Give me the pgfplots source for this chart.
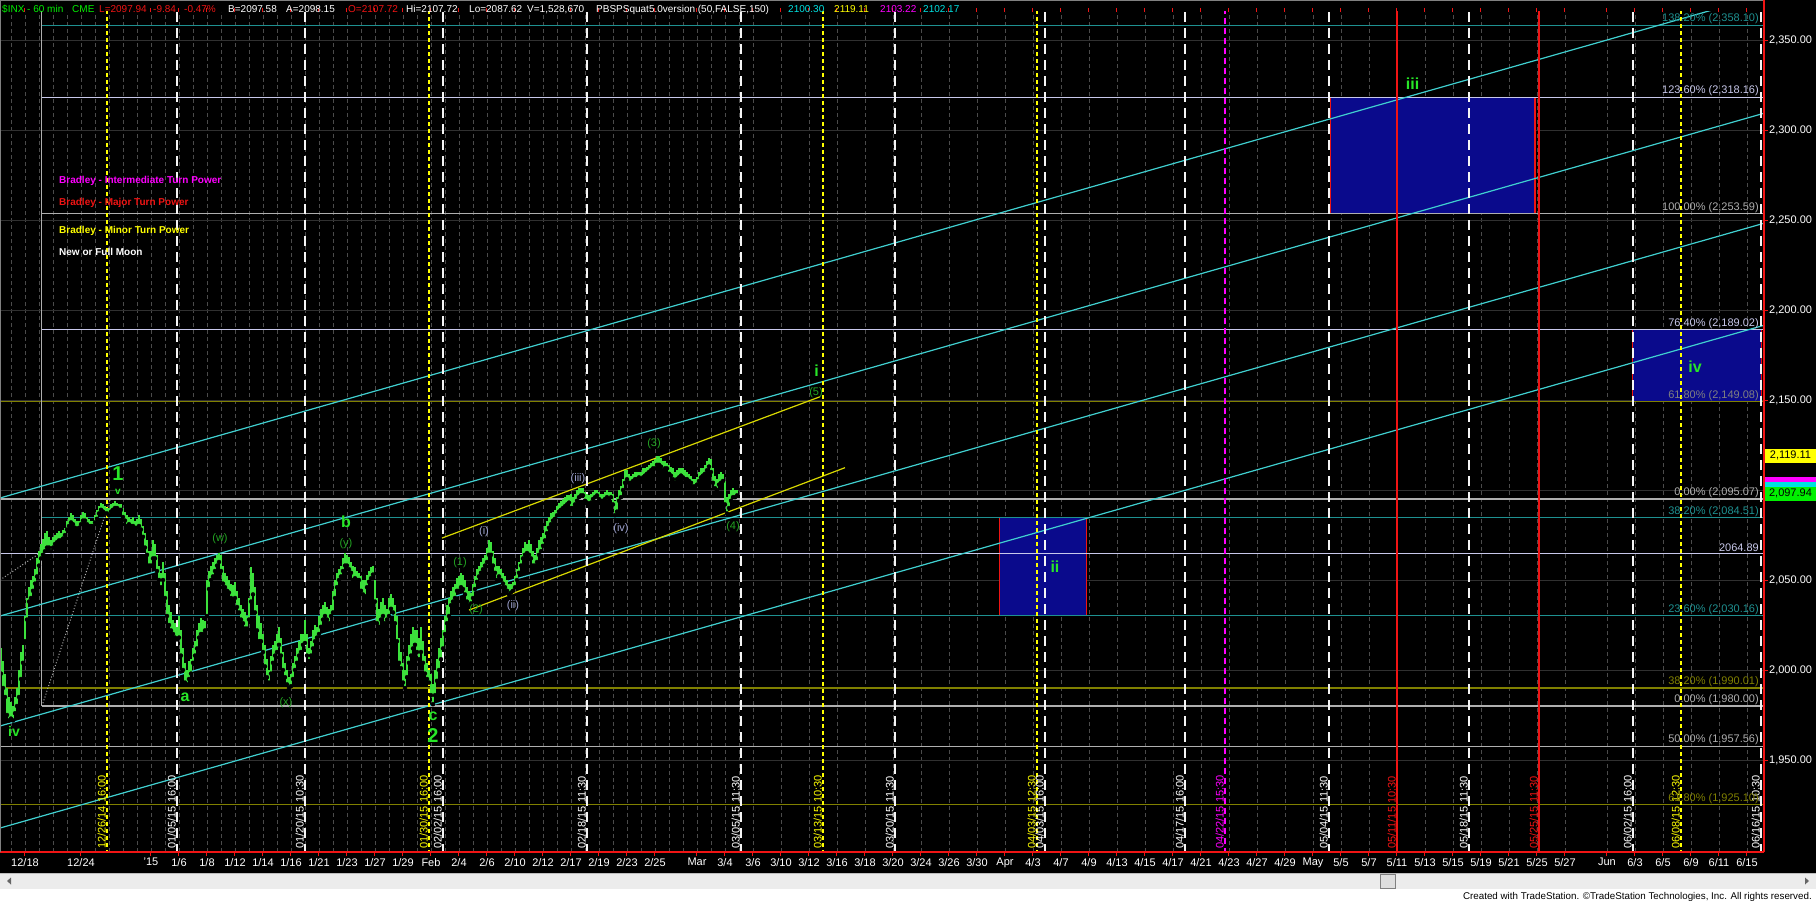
\documentclass[border=0pt]{standalone}
\usepackage{fontspec}
\setmainfont{Liberation Sans}
\usepackage{pgfplots}
\usepackage{pgfplotstable}
\pgfplotsset{compat=1.18}

\definecolor{bargreen}{RGB}{60,225,60}
\definecolor{cyanl}{RGB}{64,208,208}
\definecolor{tealf}{RGB}{30,145,145}
\definecolor{lav}{RGB}{200,200,235}
\definecolor{grayf}{RGB}{175,175,175}
\definecolor{olivef}{RGB}{128,128,0}
\definecolor{navybox}{RGB}{10,10,140}
\definecolor{redl}{RGB}{240,20,20}
\definecolor{yell}{RGB}{255,255,0}
\definecolor{mag}{RGB}{255,0,255}
\definecolor{wgreen}{RGB}{40,230,40}
\definecolor{dgreen}{RGB}{35,165,35}
\definecolor{wblue}{RGB}{160,165,210}
\definecolor{gridc}{RGB}{75,75,75}
\definecolor{gridy}{RGB}{48,48,48}
\definecolor{cyant}{RGB}{0,225,225}
\definecolor{greent}{RGB}{0,240,0}
\definecolor{sbar}{RGB}{236,236,236}
\definecolor{sbarl}{RGB}{190,190,190}
\definecolor{thumb}{RGB}{222,222,222}

\newcommand{\fA}{\fontsize{11}{13}\selectfont}
\newcommand{\fH}{\fontsize{10}{12}\selectfont}
\newcommand{\fB}{\fontsize{10}{12}\selectfont\bfseries}

% hourly bars: bar index, low, high
\pgfplotstableread{
i lo hi
-12 1998 2012
-11 1990 2005
-10 1985 1998
-9 1975 1990
-8 1972 1985
-7 1973 1982
-6 1972 1980
-5 1976 1985
-4 1980 1990
-3 1985 2000
-2 1995 2010
-1 2004 2014
0 2016 2030
1 2028 2040
2 2038 2046
3 2040 2050
4 2044 2052
5 2048 2056
6 2052 2062
7 2058 2066
8 2062 2070
9 2064 2073
10 2066 2076
11 2068 2077
12 2068 2074
13 2066 2072
14 2068 2074
15 2070 2075
16 2071 2076
17 2072 2077
18 2072 2076
19 2073 2078
20 2075 2079
21 2078 2083
22 2080 2085
23 2082 2087
24 2081 2086
25 2079 2084
26 2078 2083
27 2079 2083
28 2081 2086
29 2083 2088
30 2083 2087
31 2081 2085
32 2080 2084
33 2080 2083
34 2080 2083
35 2082 2086
36 2084 2089
37 2087 2091
38 2089 2093
39 2088 2092
40 2087 2091
41 2087 2090
42 2086 2090
43 2088 2092
44 2089 2093
45 2090 2094
46 2090 2093
47 2089 2092
48 2089 2092
49 2085 2090
50 2083 2088
51 2080 2086
52 2081 2085
53 2080 2084
54 2080 2085
55 2079 2083
56 2079 2084
57 2080 2086
58 2078 2084
59 2074 2080
60 2068 2076
61 2064 2072
62 2058 2066
63 2058 2066
64 2062 2072
65 2062 2070
66 2055 2064
67 2050 2058
68 2046 2054
69 2050 2060
70 2040 2054
71 2030 2044
72 2025 2036
73 2022 2032
74 2020 2028
75 2018 2026
76 2017 2024
77 2018 2030
78 2008 2022
79 2000 2012
80 1993 2004
81 1992 2000
82 1995 2005
83 1998 2006
84 2004 2012
85 2008 2016
86 2012 2022
87 2018 2026
88 2020 2029
89 2020 2028
90 2022 2027
91 2030 2050
92 2045 2055
93 2050 2058
94 2052 2060
95 2055 2062
96 2058 2064
97 2060 2065
98 2055 2064
99 2048 2058
100 2046 2054
101 2044 2052
102 2043 2050
103 2040 2048
104 2039 2047
105 2040 2049
106 2035 2044
107 2032 2040
108 2028 2036
109 2026 2034
110 2023 2032
111 2023 2030
112 2028 2040
113 2038 2057
114 2042 2054
115 2032 2046
116 2022 2036
117 2016 2030
118 2016 2026
119 2010 2020
120 2002 2014
121 1996 2006
122 1993 2000
123 1998 2008
124 2004 2014
125 2008 2016
126 2010 2020
127 2014 2024
128 2008 2018
129 2000 2010
130 1996 2004
131 1992 2000
132 1990 1996
133 1991 1998
134 1995 2004
135 2000 2008
136 2004 2012
137 2008 2016
138 2010 2020
139 2014 2020
140 2015 2028
141 2008 2020
142 2005 2012
143 2008 2016
144 2012 2022
145 2016 2025
146 2018 2024
147 2020 2030
148 2024 2034
149 2028 2036
150 2030 2038
151 2028 2035
152 2026 2034
153 2030 2036
154 2032 2044
155 2040 2050
156 2046 2054
157 2050 2056
158 2052 2058
159 2055 2062
160 2058 2065
161 2058 2064
162 2056 2063
163 2054 2060
164 2050 2058
165 2051 2057
166 2050 2055
167 2050 2054
168 2044 2052
169 2042 2050
170 2041 2050
171 2046 2053
172 2049 2055
173 2051 2057
174 2053 2058
175 2038 2050
176 2026 2040
177 2024 2034
178 2028 2038
179 2030 2040
180 2026 2036
181 2028 2034
182 2030 2040
183 2034 2042
184 2032 2040
185 2026 2036
186 2016 2030
187 2004 2018
188 2001 2010
189 1993 2004
190 1990 2000
191 1996 2008
192 2004 2014
193 2008 2020
194 2012 2024
195 2014 2022
196 2010 2022
197 2006 2018
198 2010 2024
199 2004 2016
200 1998 2008
201 1995 2004
202 1993 2000
203 1986 1998
204 1981 1992
205 1986 2000
206 1994 2006
207 2000 2012
208 2006 2018
209 2012 2022
210 2020 2030
211 2026 2036
212 2030 2040
213 2036 2044
214 2038 2046
215 2040 2048
216 2044 2051
217 2044 2052
218 2046 2054
219 2045 2053
220 2042 2050
221 2038 2046
222 2036 2044
223 2037 2043
224 2040 2048
225 2045 2052
226 2049 2056
227 2052 2058
228 2054 2060
229 2056 2062
230 2058 2064
231 2060 2068
232 2064 2072
233 2064 2071
234 2058 2066
235 2054 2062
236 2050 2058
237 2052 2058
238 2050 2056
239 2048 2054
240 2046 2052
241 2044 2050
242 2042 2048
243 2043 2048
244 2044 2049
245 2046 2052
246 2050 2056
247 2054 2060
248 2058 2064
249 2062 2068
250 2064 2071
251 2065 2070
252 2064 2072
253 2062 2070
254 2058 2066
255 2058 2064
256 2060 2068
257 2064 2072
258 2066 2074
259 2069 2076
260 2072 2080
261 2076 2083
262 2079 2085
263 2081 2087
264 2083 2088
265 2084 2089
266 2086 2091
267 2088 2093
268 2089 2094
269 2090 2095
270 2091 2096
271 2092 2097
272 2093 2097
273 2090 2098
274 2090 2096
275 2092 2098
276 2094 2100
277 2096 2101
278 2097 2101
279 2097 2101
280 2094 2099
281 2093 2098
282 2092 2097
283 2093 2098
284 2095 2099
285 2096 2100
286 2097 2100
287 2095 2099
288 2094 2098
289 2094 2098
290 2095 2099
291 2096 2100
292 2095 2099
293 2096 2099
294 2092 2098
295 2086 2094
296 2088 2096
297 2094 2100
298 2096 2102
299 2100 2106
300 2104 2111
301 2106 2111
302 2104 2109
303 2104 2108
304 2105 2109
305 2106 2110
306 2106 2110
307 2107 2110
308 2106 2110
309 2107 2112
310 2108 2112
311 2109 2113
312 2110 2114
313 2111 2115
314 2112 2116
315 2112 2117
316 2114 2119
317 2114 2119
318 2113 2118
319 2111 2116
320 2112 2116
321 2112 2115
322 2109 2114
323 2108 2113
324 2106 2112
325 2104 2110
326 2106 2111
327 2107 2112
328 2108 2112
329 2107 2112
330 2106 2111
331 2106 2110
332 2105 2109
333 2104 2108
334 2102 2106
335 2102 2106
336 2103 2107
337 2105 2110
338 2107 2112
339 2108 2112
340 2109 2114
341 2111 2116
342 2113 2118
343 2110 2117
344 2104 2112
345 2101 2108
346 2100 2106
347 2103 2109
348 2104 2110
349 2105 2109
350 2092 2105
351 2087 2096
352 2090 2098
353 2094 2100
354 2096 2101
355 2096 2100
356 2097 2100
}\bars

\begin{document}
\begin{tikzpicture}
\useasboundingbox (0,0) rectangle (1816pt,-904pt);
\fill[black] (0,0) rectangle (1816pt,-873pt);
\fill[white] (0,-873pt) rectangle (1816pt,-904pt);
\fill[sbar] (0,-873pt) rectangle (1816pt,-889pt);
\draw[sbarl] (0,-873.5pt) -- (1816pt,-873.5pt);
\filldraw[fill=thumb, draw=gray] (1380pt,-874.5pt) rectangle (1395pt,-888pt);
\fill[black!60] (7pt,-881pt) -- (11pt,-877.5pt) -- (11pt,-884.5pt) -- cycle;
\fill[black!60] (1809pt,-881pt) -- (1805pt,-877.5pt) -- (1805pt,-884.5pt) -- cycle;
\node[anchor=east, font=\fontsize{9.8}{12}\selectfont, text=black, inner sep=0pt] at (1812pt,-897pt)
  {Created with TradeStation. \textcopyright TradeStation Technologies, Inc. All rights reserved.};

\begin{axis}[
  at={(0pt,-12pt)}, anchor=north west,
  scale only axis, width=1764pt, height=840pt,
  xmin=-12.5, xmax=869.5, ymin=1898.89, ymax=2365.56,
  axis line style={draw=none},
  clip mode=individual,
  xtick={0,28,63,77,91,105,119,133,147,161,175,189,203,217,231,245,259,273,287,301,315,336,350,364,378,392,406,420,434,448,462,476,490,504,518,532,546,560,574,588,602,616,630,644,658,672,686,700,714,728,742,756,770,791,805,819,833,847,861},
  xticklabels={12/18,12/24,'15,1/6,1/8,1/12,1/14,1/16,1/21,1/23,1/27,1/29,Feb,2/4,2/6,2/10,2/12,2/17,2/19,2/23,2/25,Mar,3/4,3/6,3/10,3/12,3/16,3/18,3/20,3/24,3/26,3/30,Apr,4/3,4/7,4/9,4/13,4/15,4/17,4/21,4/23,4/27,4/29,May,5/5,5/7,5/11,5/13,5/15,5/19,5/21,5/25,5/27,Jun,6/3,6/5,6/9,6/11,6/15},
  minor xtick={-7,7,14,21,35,42,49,56,70,84,98,112,126,140,154,168,182,196,210,224,238,252,266,280,294,308,322,329,343,357},
  ytick={1950,2000,2050,2100,2150,2200,2250,2300,2350},
  yticklabels={{1,950.00},{2,000.00},{2,050.00},{},{2,150.00},{2,200.00},{2,250.00},{2,300.00},{2,350.00}},
  yticklabel pos=right,
  tick label style={font=\fA, text=white},
  yticklabel style={anchor=west, inner sep=1pt},
  xticklabel style={inner sep=2pt},
  tick align=outside,
  major tick length=4pt, minor tick length=0pt,
  tick style={redl, line width=1pt},
  xmajorgrids=true, xminorgrids=true, ymajorgrids=true,
  major x grid style={gridc, line width=0.8pt, dash pattern=on 4pt off 3pt},
  minor x grid style={gridc, line width=0.8pt, dash pattern=on 4pt off 3pt},
  major y grid style={gridy, line width=0.8pt},
]
% target boxes
\addplot[fill=navybox, draw=redl, line width=1.2pt] coordinates {(487.2,2030.16) (530.8,2030.16) (530.8,2084.51) (487.2,2084.51)} -- cycle;
\addplot[fill=navybox, draw=redl, line width=1.2pt] coordinates {(652.9,2253.59) (755,2253.59) (755,2318.16) (652.9,2318.16)} -- cycle;
\addplot[fill=navybox, draw=redl, line width=1.2pt] coordinates {(803.8,2149.08) (868.3,2149.08) (868.3,2189.02) (803.8,2189.02)} -- cycle;

% Fibonacci levels
\addplot[tealf, line width=1.1pt] coordinates {(8.5,2358.10) (869.5,2358.10)};
\addplot[lav, line width=1.1pt] coordinates {(8.5,2318.16) (869.5,2318.16)};
\addplot[grayf, line width=1.1pt] coordinates {(8.5,2253.59) (869.5,2253.59)};
\addplot[lav, line width=1.1pt] coordinates {(8.5,2189.02) (869.5,2189.02)};
\addplot[olivef, line width=1.1pt] coordinates {(-12.5,2149.08) (869.5,2149.08)};
\addplot[grayf, line width=2.6pt] coordinates {(-12.5,2095.07) (869.5,2095.07)};
\addplot[tealf, line width=1.1pt] coordinates {(8.5,2084.51) (869.5,2084.51)};
\addplot[lav, line width=1.1pt] coordinates {(-12.5,2064.89) (869.5,2064.89)};
\addplot[tealf, line width=1.1pt] coordinates {(-12.5,2030.16) (869.5,2030.16)};
\addplot[olivef, line width=1.1pt] coordinates {(-12.5,1990.01) (869.5,1990.01)};
\addplot[grayf, line width=1.1pt] coordinates {(8.5,1980.00) (869.5,1980.00)};
\addplot[grayf, line width=1.1pt] coordinates {(-12.5,1957.56) (869.5,1957.56)};
\addplot[olivef, line width=1.1pt] coordinates {(-12.5,1925.10) (869.5,1925.10)};
\addplot[grayf, line width=1pt] coordinates {(8.5,1980) (8.5,2366)};
\addplot[grayf, dotted, line width=1pt] coordinates {(8.5,1980) (42.5,2094.4)};
\addplot[grayf, dotted, line width=1pt] coordinates {(-12.5,2050) (7.5,2065)};

% channel lines
\addplot[cyanl, line width=1.2pt] coordinates {(-12.5,2095.56) (869.5,2374.86)};
\addplot[cyanl, line width=1.2pt] coordinates {(-12.5,2030.0) (869.5,2309.3)};
\addplot[cyanl, line width=1.2pt] coordinates {(-12.5,1968.9) (869.5,2248.2)};
\addplot[cyanl, line width=1.2pt] coordinates {(-12.5,1912.2) (869.5,2191.5)};
\addplot[yell!85!black, line width=1.2pt] coordinates {(208.5,2073.3) (397.5,2151.8)};
\addplot[yell!85!black, line width=1.2pt] coordinates {(222,2033.3) (410,2112.4)};

% event lines
\pgfplotsset{
  wline/.style={white!92!gray, line width=1.4pt, dash pattern=on 10pt off 6pt},
  yline/.style={yell, line width=1.2pt, dash pattern=on 4pt off 3pt},
  mline/.style={mag, line width=1.2pt, dash pattern=on 6pt off 4pt},
  rline/.style={redl, line width=2pt},
}
\addplot[yline] coordinates {(41,1898) (41,2366)};
\addplot[wline] coordinates {(76,1898) (76,2366)};
\addplot[wline] coordinates {(140,1898) (140,2366)};
\addplot[yline] coordinates {(202,1898) (202,2366)};
\addplot[wline] coordinates {(209,1898) (209,2366)};
\addplot[wline] coordinates {(281,1898) (281,2366)};
\addplot[wline] coordinates {(358,1898) (358,2366)};
\addplot[yline] coordinates {(399,1898) (399,2366)};
\addplot[wline] coordinates {(435,1898) (435,2366)};
\addplot[yline] coordinates {(506,1898) (506,2366)};
\addplot[wline] coordinates {(510,1898) (510,2366)};
\addplot[wline] coordinates {(580,1898) (580,2366)};
\addplot[mline] coordinates {(600,1898) (600,2366)};
\addplot[wline] coordinates {(652,1898) (652,2366)};
\addplot[rline] coordinates {(686,1898) (686,2366)};
\addplot[wline] coordinates {(722,1898) (722,2366)};
\addplot[rline] coordinates {(757,1898) (757,2366)};
\addplot[wline] coordinates {(804,1898) (804,2366)};
\addplot[yline] coordinates {(828,1898) (828,2366)};
\addplot[wline] coordinates {(868,1898) (868,2366)};

% price bars
\addplot[only marks, mark=none, error bars/.cd, y dir=plus, y explicit, error mark=none,
  error bar style={draw=bargreen, solid, line width=1.7pt}]
  table[x=i, y=lo, y error expr=\thisrow{hi}-\thisrow{lo}] {\bars};

% event labels
\tikzset{vlab/.style={rotate=90, anchor=south west, inner sep=1pt, font=\fA}}
\node[vlab, text=yell] at (axis cs:41,1900) {12/26/14 16:00};
\node[vlab, text=white] at (axis cs:76,1900) {01/05/15 16:00};
\node[vlab, text=white] at (axis cs:140,1900) {01/20/15 10:30};
\node[vlab, text=yell] at (axis cs:202,1900) {01/30/15 16:00};
\node[vlab, text=white] at (axis cs:209,1900) {02/02/15 16:00};
\node[vlab, text=white] at (axis cs:281,1900) {02/18/15 11:30};
\node[vlab, text=white] at (axis cs:358,1900) {03/05/15 11:30};
\node[vlab, text=yell] at (axis cs:399,1900) {03/13/15 10:30};
\node[vlab, text=white] at (axis cs:435,1900) {03/20/15 11:30};
\node[vlab, text=yell] at (axis cs:506,1900) {04/03/15 12:30};
\node[vlab, text=white] at (axis cs:510,1900) {04/03/15 16:00};
\node[vlab, text=white] at (axis cs:580,1900) {04/17/15 16:00};
\node[vlab, text=mag] at (axis cs:600,1900) {04/22/15 15:30};
\node[vlab, text=white] at (axis cs:652,1900) {05/04/15 11:30};
\node[vlab, text=redl] at (axis cs:686,1900) {05/11/15 10:30};
\node[vlab, text=white] at (axis cs:722,1900) {05/18/15 11:30};
\node[vlab, text=redl] at (axis cs:757,1900) {05/25/15 11:30};
\node[vlab, text=white] at (axis cs:804,1900) {06/02/15 16:00};
\node[vlab, text=yell] at (axis cs:828,1900) {06/08/15 12:30};
\node[vlab, text=white] at (axis cs:868,1900) {06/16/15 10:30};

% Fibonacci labels
\tikzset{flab/.style={anchor=south east, inner sep=1pt, font=\fA}}
\node[flab, text=tealf] at (axis cs:867.5,2358.10) {138.20\% (2,358.10)};
\node[flab, text=lav] at (axis cs:867.5,2318.16) {123.60\% (2,318.16)};
\node[flab, text=grayf] at (axis cs:867.5,2253.59) {100.00\% (2,253.59)};
\node[flab, text=lav] at (axis cs:867.5,2189.02) {76.40\% (2,189.02)};
\node[flab, text=gray] at (axis cs:867.5,2149.08) {61.80\% (2,149.08)};
\node[flab, text=grayf] at (axis cs:867.5,2095.07) {0.00\% (2,095.07)};
\node[flab, text=tealf] at (axis cs:867.5,2084.51) {38.20\% (2,084.51)};
\node[flab, text=lav] at (axis cs:867.5,2064.89) {2064.89};
\node[flab, text=tealf] at (axis cs:867.5,2030.16) {23.60\% (2,030.16)};
\node[flab, text=olivef] at (axis cs:867.5,1990.01) {38.20\% (1,990.01)};
\node[flab, text=grayf] at (axis cs:867.5,1980.00) {0.00\% (1,980.00)};
\node[flab, text=grayf] at (axis cs:867.5,1957.56) {50.00\% (1,957.56)};
\node[flab, text=olivef] at (axis cs:867.5,1925.10) {61.80\% (1,925.10)};

% wave labels
\tikzset{big/.style={text=wgreen, font=\fontsize{20}{22}\selectfont\bfseries, inner sep=0pt},
         mid/.style={text=wgreen, font=\fontsize{16}{18}\selectfont\bfseries, inner sep=0pt},
         par/.style={text=dgreen, font=\fA, inner sep=0pt},
         parb/.style={text=wblue, font=\fA, inner sep=0pt}}
\node[big] at (axis cs:46.5,2109.0) {1};
\node[text=wgreen, font=\fontsize{10}{12}\selectfont\bfseries, inner sep=0pt] at (axis cs:46.5,2098.8) {v};
\node[text=wgreen, font=\fontsize{14}{16}\selectfont\bfseries, inner sep=0pt] at (axis cs:-5.5,1965.6) {iv};
\node[mid] at (axis cs:80,1985) {a};
\node[par] at (axis cs:97.5,2072.8) {(w)};
\node[par] at (axis cs:130.5,1981.7) {(x)};
\node[mid] at (axis cs:160.5,2082.2) {b};
\node[par] at (axis cs:160.5,2070) {(y)};
\node[mid] at (axis cs:204,1974.4) {c};
\node[big] at (axis cs:204,1963.4) {2};
\node[par] at (axis cs:217.5,2059.4) {(1)};
\node[parb] at (axis cs:229.5,2076.7) {(i)};
\node[par] at (axis cs:225.5,2033.3) {(2)};
\node[parb] at (axis cs:244,2035.6) {(ii)};
\node[parb] at (axis cs:276.5,2106.1) {(iii)};
\node[par] at (axis cs:314.5,2125.6) {(3)};
\node[parb] at (axis cs:298,2078.3) {(iv)};
\node[par] at (axis cs:354,2079.4) {(4)};
\node[mid] at (axis cs:395.8,2166.3) {i};
\node[par] at (axis cs:395.5,2154) {(5)};
\node[mid] at (axis cs:515,2057.4) {ii};
\node[mid] at (axis cs:693.8,2325.6) {iii};
\node[mid] at (axis cs:835,2168.3) {iv};

% anchors for price tags
\coordinate (t1) at (axis cs:869.5,2119.11);
\coordinate (t2) at (axis cs:869.5,2103.22);
\coordinate (t3) at (axis cs:869.5,2100.30);
\coordinate (t4) at (axis cs:869.5,2097.94);
\end{axis}

% axis borders
\draw[redl, line width=1.5pt] (0,-852pt) -- (1764pt,-852pt);
\draw[redl, line width=1.5pt] (1764pt,0) -- (1764pt,-852pt);
\draw[gray, line width=1.5pt] (0,-0.75pt) -- (1763pt,-0.75pt);
\draw[gray, line width=1pt] (0.5pt,0) -- (0.5pt,-852pt);

% price tags (magenta and cyan tags are mostly hidden behind the last-price tag)
\tikzset{tag/.style={anchor=west, text=black, font=\fA, minimum width=51pt, minimum height=14pt, inner sep=1pt}}
\node[tag, fill=yell] at ([xshift=0.8pt]t1) {2,119.11};
\node[tag, fill=mag] at ([xshift=0.8pt]t2) {};
\node[tag, fill=cyant] at ([xshift=0.8pt]t3) {};
\node[tag, fill=greent] at ([xshift=0.8pt]t4) {2,097.94};

% header
\tikzset{hd/.style={anchor=base west, font=\fH, inner sep=0pt}}
\node[hd, text=greent] at (2pt,-12.5pt) {\$INX - 60 min};
\node[hd, text=greent] at (72pt,-12.5pt) {CME};
\node[hd, text=redl] at (99pt,-12.5pt) {L=2097.94};
\node[hd, text=redl] at (153pt,-12.5pt) {-9.84};
\node[hd, text=redl] at (184pt,-12.5pt) {-0.47\%};
\node[hd, text=white] at (228pt,-12.5pt) {B=2097.58};
\node[hd, text=white] at (286pt,-12.5pt) {A=2098.15};
\node[hd, text=redl] at (348pt,-12.5pt) {O=2107.72};
\node[hd, text=white] at (406pt,-12.5pt) {Hi=2107.72};
\node[hd, text=white] at (469pt,-12.5pt) {Lo=2087.62};
\node[hd, text=white] at (527pt,-12.5pt) {V=1,528,670};
\node[hd, text=white] at (596pt,-12.5pt) {PBSPSquat5.0version (50,FALSE,150)};
\node[hd, text=cyant] at (788pt,-12.5pt) {2100.30};
\node[hd, text=yell] at (834pt,-12.5pt) {2119.11};
\node[hd, text=mag] at (880pt,-12.5pt) {2103.22};
\node[hd, text=cyant] at (923pt,-12.5pt) {2102.17};

% Bradley legend
\node[anchor=west, font=\fB, text=mag, inner sep=0pt] at (59pt,-181pt) {Bradley - Intermediate Turn Power};
\node[anchor=west, font=\fB, text=redl, inner sep=0pt] at (59pt,-203pt) {Bradley - Major Turn Power};
\node[anchor=west, font=\fB, text=yell, inner sep=0pt] at (59pt,-231pt) {Bradley - Minor Turn Power};
\node[anchor=west, font=\fB, text=white, inner sep=0pt] at (59pt,-252pt) {New or Full Moon};
\end{tikzpicture}
\end{document}
